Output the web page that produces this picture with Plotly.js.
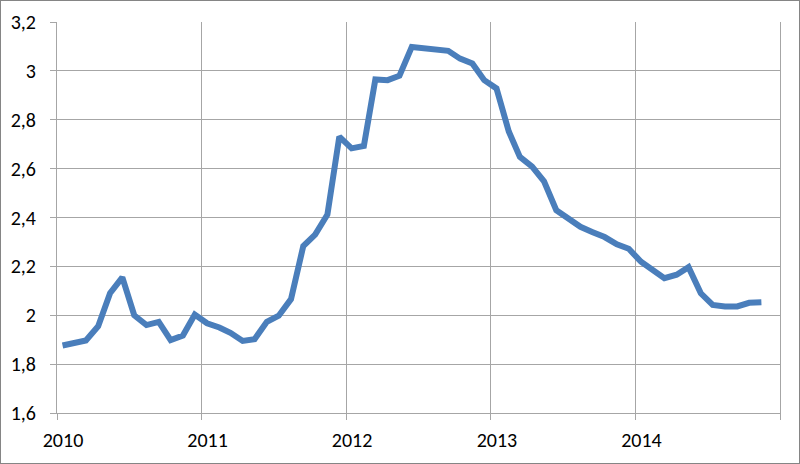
<!DOCTYPE html>
<html>
<head>
<meta charset="utf-8">
<script src="https://cdn.plot.ly/plotly-3.0.1.min.js"></script>
<style>
  html, body { margin: 0; padding: 0; background: #fff; }
  #chart { width: 800px; height: 464px; }
  #frame { position: absolute; left: 0; top: 0; width: 800px; height: 464px; box-sizing: border-box; border: 1px solid #858585; pointer-events: none; }
</style>
</head>
<body>
<div id="chart"></div>
<div id="frame"></div>
<script>
// Monthly values (Jan..Dec)
const years = [2010, 2011, 2012, 2013, 2014];
const values2010 = [1.876, 1.888, 1.897, 1.955, 2.090, 2.155, 2.000, 1.960, 1.973, 1.898, 1.917, 2.003];
const values2011 = [1.967, 1.950, 1.928, 1.895, 1.902, 1.973, 1.998, 2.066, 2.283, 2.330, 2.412, 2.731];
const values2012 = [2.683, 2.693, 2.965, 2.962, 2.980, 3.098, 3.092, 3.082, 3.082, 3.050, 3.030, 2.962];
const values2013 = [2.928, 2.752, 2.648, 2.608, 2.548, 2.430, 2.395, 2.362, 2.340, 2.320, 2.290, 2.272];
const values2014 = [2.219, 2.185, 2.152, 2.166, 2.197, 2.090, 2.042, 2.036, 2.036, 2.051, 2.053];

const xTickVals = ['2010-01-01', '2011-01-01', '2012-01-01', '2013-01-01', '2014-01-01', '2015-01-01'];
const xTickText = ['2010', '2011', '2012', '2013', '2014', ''];
const yTickVals = [1.6, 1.8, 2.0, 2.2, 2.4, 2.6, 2.8, 3.0, 3.2];
const yTickText = ['1,6', '1,8', '2', '2,2', '2,4', '2,6', '2,8', '3', '3,2'];

const series = [values2010, values2011, values2012, values2013, values2014];
const xs = [], ys = [];
series.forEach(function (vals, i) {
  vals.forEach(function (v, m) {
    const mm = String(m + 1).padStart(2, '0');
    xs.push(years[i] + '-' + mm + '-15');
    ys.push(v);
  });
});

const gridColor = '#a6a6a6';
const font = { family: "Carlito, Calibri, 'Open Sans', sans-serif", size: 20, color: '#000' };

const trace = {
  x: xs, y: ys, type: 'scatter', mode: 'lines',
  line: { color: '#4a7ebb', width: 6, shape: 'linear' },
  hoverinfo: 'x+y'
};

const layout = {
  width: 800, height: 464,
  margin: { l: 57, r: 20, t: 22, b: 51, pad: 0 },
  paper_bgcolor: '#fff', plot_bgcolor: '#fff',
  showlegend: false,
  font: font,
  xaxis: {
    type: 'date',
    range: ['2010-01-01', '2015-01-01'],
    tickmode: 'array', tickvals: xTickVals, ticktext: xTickText,
    showgrid: true, gridcolor: gridColor, gridwidth: 1,
    showline: true, linecolor: gridColor, linewidth: 1,
    ticks: 'outside', ticklen: 6, tickcolor: gridColor, tickwidth: 1,
    ticklabelshift: 6, ticklabelstandoff: 3,
    zeroline: false, tickfont: font
  },
  yaxis: {
    range: [1.6, 3.2],
    tickmode: 'array', tickvals: yTickVals, ticktext: yTickText,
    showgrid: true, gridcolor: gridColor, gridwidth: 1,
    showline: true, linecolor: gridColor, linewidth: 1, mirror: true,
    ticks: 'outside', ticklen: 6, tickcolor: gridColor, tickwidth: 1,
    ticklabelstandoff: 10,
    zeroline: false, tickfont: font
  }
};

Plotly.newPlot('chart', [trace], layout, { displayModeBar: false, staticPlot: true });
</script>
</body>
</html>
